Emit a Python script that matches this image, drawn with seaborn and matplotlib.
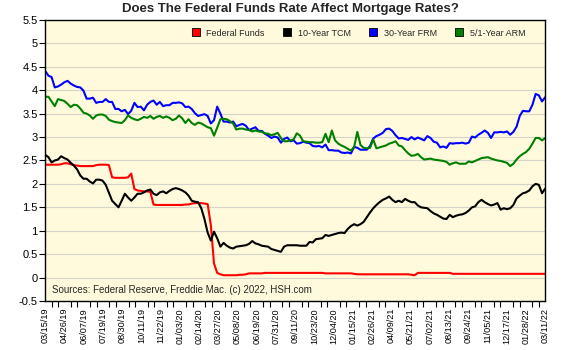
import numpy as np
import pandas as pd
import matplotlib
matplotlib.use("Agg")
import matplotlib.pyplot as plt
import seaborn as sns
from matplotlib.lines import Line2D

# --- weekly rates, 03/2019 - 03/2022 ---
fed_funds = [
    2.41, 2.41, 2.41, 2.41, 2.41, 2.42, 2.44, 2.44, 2.42, 2.40,
    2.39, 2.38, 2.38, 2.38, 2.38, 2.38, 2.40, 2.41, 2.41, 2.41,
    2.40, 2.14, 2.13, 2.13, 2.13, 2.13, 2.14, 2.22, 1.89, 1.86,
    1.85, 1.84, 1.84, 1.83, 1.56, 1.55, 1.55, 1.55, 1.55, 1.55,
    1.55, 1.55, 1.55, 1.55, 1.56, 1.56, 1.58, 1.59, 1.59, 1.59,
    1.58, 1.57, 1.12, 0.30, 0.10, 0.07, 0.05, 0.05, 0.05, 0.05,
    0.05, 0.06, 0.06, 0.07, 0.09, 0.09, 0.09, 0.09, 0.09, 0.10,
    0.10, 0.10, 0.10, 0.10, 0.10, 0.10, 0.10, 0.10, 0.10, 0.10,
    0.10, 0.10, 0.10, 0.10, 0.10, 0.10, 0.10, 0.10, 0.09, 0.09,
    0.09, 0.09, 0.09, 0.09, 0.09, 0.09, 0.09, 0.08, 0.07, 0.07,
    0.07, 0.07, 0.07, 0.07, 0.07, 0.07, 0.07, 0.07, 0.07, 0.07,
    0.07, 0.07, 0.07, 0.07, 0.07, 0.06, 0.05, 0.10, 0.10, 0.10,
    0.10, 0.10, 0.10, 0.10, 0.10, 0.10, 0.10, 0.10, 0.08, 0.08,
    0.08, 0.08, 0.08, 0.08, 0.08, 0.08, 0.08, 0.08, 0.08, 0.08,
    0.08, 0.08, 0.08, 0.08, 0.08, 0.08, 0.08, 0.08, 0.08, 0.08,
    0.08, 0.08, 0.08, 0.08, 0.08, 0.08, 0.08, 0.08,
]

tcm_10y = [
    2.62, 2.57, 2.46, 2.50, 2.52, 2.59, 2.55, 2.52, 2.45, 2.39,
    2.31, 2.18, 2.11, 2.11, 2.05, 2.01, 2.09, 2.09, 2.07, 1.98,
    1.81, 1.64, 1.57, 1.50, 1.64, 1.79, 1.71, 1.64, 1.71, 1.79,
    1.79, 1.82, 1.86, 1.88, 1.79, 1.76, 1.82, 1.84, 1.80, 1.85,
    1.89, 1.91, 1.89, 1.86, 1.82, 1.75, 1.64, 1.62, 1.61, 1.48,
    1.25, 0.96, 0.79, 0.98, 0.84, 0.66, 0.74, 0.68, 0.64, 0.62,
    0.66, 0.67, 0.68, 0.69, 0.72, 0.78, 0.73, 0.71, 0.68, 0.67,
    0.66, 0.61, 0.59, 0.57, 0.55, 0.66, 0.69, 0.69, 0.69, 0.69,
    0.68, 0.68, 0.68, 0.76, 0.75, 0.82, 0.83, 0.84, 0.91, 0.89,
    0.91, 0.93, 0.95, 0.96, 0.95, 1.04, 1.10, 1.14, 1.11, 1.14,
    1.19, 1.29, 1.39, 1.48, 1.55, 1.61, 1.66, 1.69, 1.73, 1.66,
    1.61, 1.64, 1.61, 1.68, 1.64, 1.61, 1.61, 1.54, 1.50, 1.49,
    1.48, 1.42, 1.37, 1.34, 1.30, 1.26, 1.25, 1.34, 1.29, 1.32,
    1.34, 1.35, 1.38, 1.43, 1.50, 1.52, 1.61, 1.66, 1.61, 1.57,
    1.54, 1.56, 1.59, 1.45, 1.48, 1.46, 1.48, 1.55, 1.69, 1.75,
    1.80, 1.82, 1.86, 1.95, 2.00, 1.98, 1.80, 1.90,
]

frm_30y = [
    4.41, 4.31, 4.28, 4.06, 4.08, 4.12, 4.17, 4.20, 4.14, 4.10,
    4.07, 4.06, 3.99, 3.82, 3.82, 3.84, 3.73, 3.75, 3.75, 3.81,
    3.75, 3.75, 3.60, 3.60, 3.55, 3.58, 3.49, 3.56, 3.73, 3.64,
    3.65, 3.57, 3.69, 3.75, 3.78, 3.69, 3.75, 3.66, 3.68, 3.68,
    3.73, 3.73, 3.74, 3.72, 3.64, 3.65, 3.60, 3.51, 3.45, 3.47,
    3.49, 3.45, 3.29, 3.36, 3.65, 3.50, 3.33, 3.33, 3.31, 3.33,
    3.23, 3.26, 3.28, 3.24, 3.15, 3.18, 3.21, 3.13, 3.13, 3.07,
    3.03, 2.98, 3.01, 2.99, 2.88, 2.96, 2.99, 2.91, 2.93, 2.86,
    2.87, 2.90, 2.88, 2.87, 2.81, 2.80, 2.81, 2.78, 2.84, 2.72,
    2.72, 2.71, 2.71, 2.67, 2.66, 2.67, 2.65, 2.79, 2.77, 2.73,
    2.73, 2.73, 2.81, 2.97, 3.02, 3.05, 3.09, 3.17, 3.18, 3.13,
    3.04, 2.97, 2.98, 2.96, 2.94, 3.00, 2.95, 2.99, 2.96, 2.93,
    3.02, 2.98, 2.90, 2.88, 2.78, 2.80, 2.77, 2.87, 2.86, 2.87,
    2.87, 2.88, 2.86, 2.88, 3.01, 2.99, 3.05, 3.09, 3.14, 3.09,
    2.98, 3.10, 3.10, 3.11, 3.10, 3.12, 3.05, 3.11, 3.22, 3.45,
    3.56, 3.55, 3.55, 3.69, 3.92, 3.89, 3.76, 3.85,
]

arm_51 = [
    3.86, 3.86, 3.76, 3.66, 3.81, 3.79, 3.77, 3.71, 3.64, 3.69,
    3.68, 3.61, 3.52, 3.50, 3.46, 3.39, 3.46, 3.48, 3.48, 3.45,
    3.37, 3.34, 3.32, 3.31, 3.30, 3.36, 3.46, 3.41, 3.38, 3.36,
    3.39, 3.43, 3.41, 3.45, 3.39, 3.43, 3.45, 3.41, 3.44, 3.41,
    3.36, 3.39, 3.46, 3.40, 3.30, 3.38, 3.30, 3.26, 3.31, 3.29,
    3.25, 3.21, 3.19, 3.03, 3.20, 3.38, 3.39, 3.38, 3.34, 3.29,
    3.16, 3.18, 3.18, 3.16, 3.15, 3.12, 3.14, 3.12, 3.11, 3.08,
    3.07, 3.04, 3.06, 3.09, 2.98, 2.91, 2.91, 2.93, 2.95, 3.08,
    3.03, 2.91, 2.90, 2.89, 2.89, 2.88, 2.88, 2.89, 3.07, 2.89,
    3.14, 2.93, 2.86, 2.82, 2.79, 2.75, 2.71, 2.79, 3.11, 2.83,
    2.77, 2.76, 2.77, 2.95, 2.76, 2.78, 2.80, 2.82, 2.86, 2.88,
    2.91, 2.82, 2.80, 2.72, 2.65, 2.60, 2.61, 2.64, 2.57, 2.52,
    2.53, 2.54, 2.52, 2.51, 2.50, 2.49, 2.47, 2.41, 2.44, 2.46,
    2.43, 2.43, 2.43, 2.48, 2.46, 2.49, 2.52, 2.55, 2.56, 2.57,
    2.54, 2.52, 2.50, 2.49, 2.47, 2.45, 2.38, 2.43, 2.52, 2.59,
    2.64, 2.68, 2.75, 2.86, 2.98, 2.98, 2.93, 2.98,
]

date_labels = [
    "03/15/19", "04/26/19", "06/07/19", "07/19/19", "08/30/19", "10/11/19",
    "11/22/19", "01/03/20", "02/14/20", "03/27/20", "05/08/20", "06/19/20",
    "07/31/20", "09/11/20", "10/23/20", "12/04/20", "01/15/21", "02/26/21",
    "04/09/21", "05/21/21", "07/02/21", "08/13/21", "09/24/21", "11/05/21",
    "12/17/21", "01/28/22", "03/11/22",
]

series_names = ["Federal Funds", "10-Year TCM", "30-Year FRM", "5/1-Year ARM"]
series_colors = ["#ff0000", "#000000", "#0000ff", "#008000"]

# --- DATAFRAME ---
n = len(frm_30y)
wide = pd.DataFrame({
    "week": np.arange(n),
    "Federal Funds": fed_funds,
    "10-Year TCM": tcm_10y,
    "30-Year FRM": frm_30y,
    "5/1-Year ARM": arm_51,
})
df = wide.melt(id_vars="week", var_name="serie", value_name="rate")

# --- PLOT ---
sns.set_theme(style="white")
plt.rcParams["font.family"] = ["Liberation Sans", "DejaVu Sans"]

fig, ax = plt.subplots(figsize=(5.8, 3.5), dpi=100)
fig.subplots_adjust(left=0.078, right=0.94, top=0.943, bottom=0.14)
ax.set_facecolor("#fffadc")

sns.lineplot(data=df, x="week", y="rate", hue="serie", hue_order=series_names,
             palette=dict(zip(series_names, series_colors)), linewidth=1.5,
             legend=False, ax=ax)

ax.set_xlim(0, n - 1)
ax.set_ylim(-0.5, 5.5)
yt = np.arange(-0.5, 5.51, 0.5)
ax.set_yticks(yt, [f"{v:g}" for v in yt], fontsize=8)
ax.set_xticks(np.linspace(0, n - 1, len(date_labels)), date_labels,
              rotation=90, fontsize=6.6)
ax.set_xticks(np.linspace(0, n - 1, 3 * (len(date_labels) - 1) + 1), minor=True)
ax.tick_params(axis="both", which="both", direction="out", length=4,
               width=0.8, color="black", pad=1.5, labelcolor="black")
ax.tick_params(axis="x", which="major", pad=1)
ax.tick_params(axis="x", which="minor", bottom=True)
ax.tick_params(axis="y", left=True)
ax.set_xlabel("")
ax.set_ylabel("")

ax.yaxis.grid(True, color="#d4d4c8", linewidth=0.8)
ax.set_axisbelow(True)
for sp in ax.spines.values():
    sp.set_color("black")
    sp.set_linewidth(1)

handles = [Line2D([], [], marker="s", linestyle="", markersize=5.5,
                  markerfacecolor=c, markeredgecolor="black", markeredgewidth=0.6)
           for c in series_colors]
ax.legend(handles, series_names, ncol=4, loc="upper right",
          bbox_to_anchor=(0.975, 0.995), frameon=False, fontsize=6.5,
          handletextpad=0.2, columnspacing=1.45, borderaxespad=0.4)

ax.text(0.014, 0.02, "Sources: Federal Reserve, Freddie Mac. (c) 2022, HSH.com",
        transform=ax.transAxes, fontsize=7, ha="left", va="bottom")

fig.text(0.5, 0.975, "Does The Federal Funds Rate Affect Mortgage Rates?",
         ha="center", va="center", fontsize=9.5, fontweight="bold")

fig.savefig("out.png", dpi=100)
